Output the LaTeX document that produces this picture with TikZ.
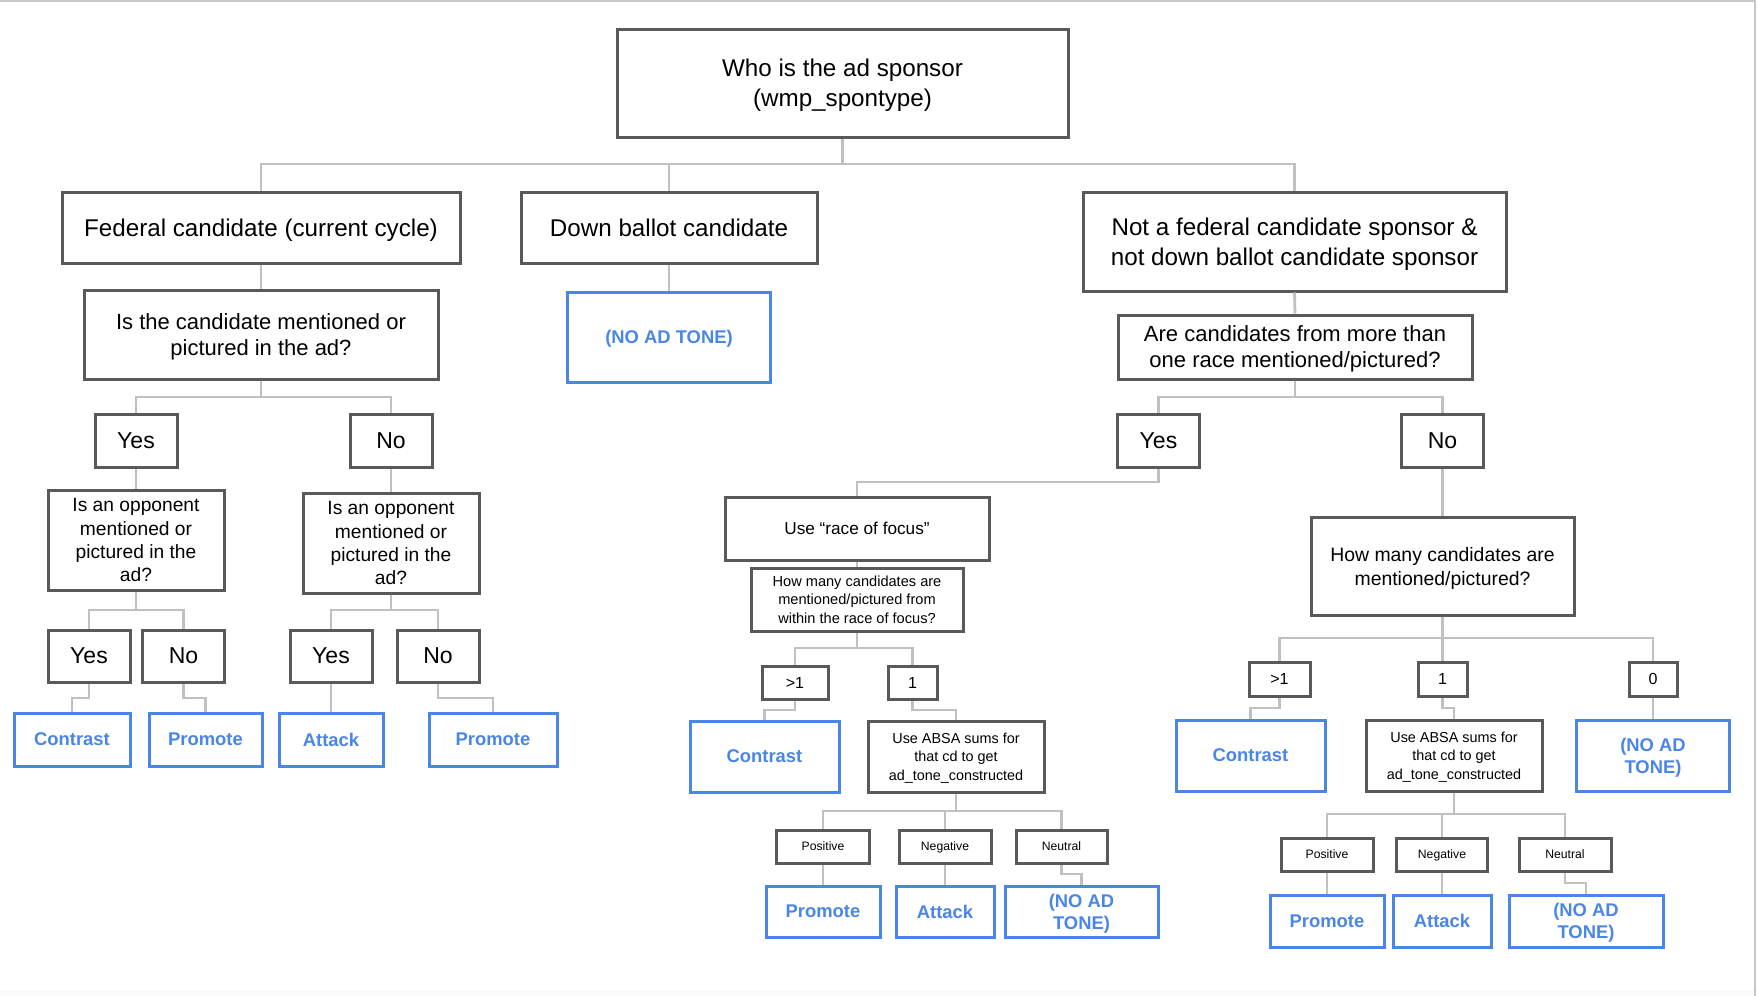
\documentclass[tikz,border=0pt]{standalone}
\usepackage{fontspec}
\setmainfont{Liberation Sans}
\usetikzlibrary{positioning}

\definecolor{boxgray}{HTML}{595959}
\definecolor{linkgray}{HTML}{C0C0C0}
\definecolor{toneblue}{HTML}{4A86E8}
\definecolor{framegray}{HTML}{C8C8C8}

\newcommand{\fxl}{\fontsize{12.1}{15}\selectfont}
\newcommand{\flg}{\fontsize{11}{13}\selectfont}
\newcommand{\fyn}{\fontsize{11.5}{13}\selectfont}
\newcommand{\fmd}{\fontsize{9.6}{11.6}\selectfont}
\newcommand{\fsm}{\fontsize{7.3}{9.3}\selectfont}
\newcommand{\fab}{\fontsize{7.2}{9.2}\selectfont}
\newcommand{\fnum}{\fontsize{8}{9}\selectfont}
\newcommand{\ftiny}{\fontsize{6.1}{7}\selectfont}

\tikzset{
  qbox/.style={rectangle,draw=boxgray,line width=1.5pt,fill=white,align=center,inner sep=1pt,text depth=0pt},
  tone/.style={rectangle,draw=toneblue,line width=1.5pt,fill=white,align=center,inner sep=1pt,text depth=0pt,
    text=toneblue,font=\fontsize{9.2}{11}\selectfont\bfseries},
  link/.style={draw=linkgray,line width=1.4pt}
}

\begin{document}
\begin{tikzpicture}[x=0.5pt,y=-0.5pt]
\useasboundingbox (0,0) rectangle (1758,996);
\fill[gray!4] (0,990) rectangle (1755,996);
\draw[framegray,line width=1pt] (0,1) -- (1755,1) -- (1755,996);

% Level 0 - Sponsor
\node[qbox,minimum width=225.5pt,minimum height=54pt,font=\fxl] (root) at (842.5,83) {Who is the ad sponsor\\(wmp\_spontype)};

% Level 1 - Sponsor types
\node[qbox,minimum width=199pt,minimum height=35.5pt,font=\fxl] (fed) at (261,227.5) {Federal candidate (current cycle)};
\node[qbox,minimum width=148pt,minimum height=35.5pt,font=\fxl] (down) at (669,227.5) {Down ballot candidate};
\node[qbox,minimum width=211.5pt,minimum height=49.5pt,font=\fxl] (notfed) at (1294.5,241.5) {Not a federal candidate sponsor \&\\not down ballot candidate sponsor};

% Level 2 - First questions
\node[qbox,minimum width=177pt,minimum height=44.5pt,font=\flg] (iscand) at (261,334.5) {Is the candidate mentioned or\\pictured in the ad?};
\node[tone,minimum width=101.5pt,minimum height=45pt] (noadD) at (669,337) {(NO AD TONE)};
\node[qbox,minimum width=177pt,minimum height=32pt,font=\flg] (arecand) at (1295,347) {Are candidates from more than\\one race mentioned/pictured?};

\node[qbox,minimum width=41pt,minimum height=26.5pt,font=\fyn] (yesA) at (136,440.5) {Yes};
\node[qbox,minimum width=41pt,minimum height=26.5pt,font=\fyn] (noA) at (391,440.5) {No};
\node[qbox,minimum width=41pt,minimum height=26.5pt,font=\fyn] (yesR) at (1158.5,440.5) {Yes};
\node[qbox,minimum width=41pt,minimum height=26.5pt,font=\fyn] (noR) at (1442.5,440.5) {No};

% Level 3 - Federal branch
\node[qbox,minimum width=88pt,minimum height=50pt,font=\fmd] (oppA) at (136,540) {Is an opponent\\mentioned or\\pictured in the\\ad?};
\node[qbox,minimum width=88pt,minimum height=50pt,font=\fmd] (oppB) at (391,543) {Is an opponent\\mentioned or\\pictured in the\\ad?};

\node[qbox,minimum width=41pt,minimum height=26pt,font=\fyn] (yesA1) at (89,656) {Yes};
\node[qbox,minimum width=41pt,minimum height=26pt,font=\fyn] (noA1) at (183.5,656) {No};
\node[qbox,minimum width=41pt,minimum height=26pt,font=\fyn] (yesB1) at (331,656) {Yes};
\node[qbox,minimum width=41pt,minimum height=26pt,font=\fyn] (noB1) at (438,656) {No};

\node[tone,minimum width=58pt,minimum height=26.5pt] (conA) at (72,739.5) {Contrast};
\node[tone,minimum width=56.5pt,minimum height=26.5pt] (proA) at (205.5,739.5) {Promote};
\node[tone,minimum width=52pt,minimum height=26.5pt] (attB) at (331,739.5) {Attack};
\node[tone,minimum width=64pt,minimum height=26.5pt] (proB) at (493,739.5) {Promote};

% Level 3 - Race of focus branch
\node[qbox,minimum width=132pt,minimum height=31.5pt,font=\fontsize{8.6}{10}\selectfont] (race) at (857,528.5) {Use “race of focus”};
\node[qbox,minimum width=106pt,minimum height=31.5pt,font=\fsm] (focus) at (857,599.5) {How many candidates are\\mentioned/pictured from\\within the race of focus?};

\node[qbox,minimum width=33pt,minimum height=16.5pt,font=\fnum] (gtF) at (795,682.5) {>1};
\node[qbox,minimum width=24.5pt,minimum height=16.5pt,font=\fnum] (oneF) at (912.5,682.5) {1};

\node[tone,minimum width=74.5pt,minimum height=35.5pt] (conF) at (764.5,756.5) {Contrast};
\node[qbox,minimum width=88pt,minimum height=35.5pt,font=\fab] (absaF) at (956,756.5) {Use ABSA sums for\\that cd to get\\ad\_tone\_constructed};

\node[qbox,minimum width=46.5pt,minimum height=16.5pt,font=\ftiny] (posF) at (823,846.5) {Positive};
\node[qbox,minimum width=46pt,minimum height=16.5pt,font=\ftiny] (negF) at (945,846.5) {Negative};
\node[qbox,minimum width=45.5pt,minimum height=16.5pt,font=\ftiny] (neuF) at (1061.5,846.5) {Neutral};

\node[tone,minimum width=57pt,minimum height=25.5pt] (proF) at (823,911.5) {Promote};
\node[tone,minimum width=49pt,minimum height=25.5pt] (attF) at (945,911.5) {Attack};
\node[tone,minimum width=76.5pt,minimum height=25.5pt] (noadF) at (1081.5,911.5) {(NO AD\\TONE)};

% Level 3 - Single race branch
\node[qbox,minimum width=131.5pt,minimum height=49pt,font=\fontsize{9.7}{12}\selectfont] (howR) at (1442.5,566) {How many candidates are\\mentioned/pictured?};

\node[qbox,minimum width=30.5pt,minimum height=17pt,font=\fnum] (gtR) at (1279.5,679) {>1};
\node[qbox,minimum width=24.5pt,minimum height=17pt,font=\fnum] (oneR) at (1442.5,679) {1};
\node[qbox,minimum width=24pt,minimum height=17pt,font=\fnum] (zeroR) at (1653,679) {0};

\node[tone,minimum width=74.5pt,minimum height=35.5pt] (conR) at (1250.5,755.5) {Contrast};
\node[qbox,minimum width=88pt,minimum height=35.5pt,font=\fab] (absaR) at (1454,755.5) {Use ABSA sums for\\that cd to get\\ad\_tone\_constructed};
\node[tone,minimum width=76.5pt,minimum height=35.5pt] (noadR) at (1653,755.5) {(NO AD\\TONE)};

\node[qbox,minimum width=46pt,minimum height=16.5pt,font=\ftiny] (posR) at (1327,854.5) {Positive};
\node[qbox,minimum width=45.5pt,minimum height=16.5pt,font=\ftiny] (negR) at (1442,854.5) {Negative};
\node[qbox,minimum width=46pt,minimum height=16.5pt,font=\ftiny] (neuR) at (1565,854.5) {Neutral};

\node[tone,minimum width=57pt,minimum height=26pt] (proR) at (1327,921) {Promote};
\node[tone,minimum width=49pt,minimum height=26pt] (attR) at (1442,921) {Attack};
\node[tone,minimum width=77pt,minimum height=26pt] (noadR2) at (1586,921) {(NO AD\\TONE)};

% Bus levels
\coordinate (b0) at (0,164);
\coordinate (b1) at (0,397);
\coordinate (b2) at (0,610);
\coordinate (b3) at (0,698);
\coordinate (b4) at (0,482);
\coordinate (b5) at (0,648);
\coordinate (b6) at (0,710);
\coordinate (b7) at (0,811);
\coordinate (b8) at (0,874);
\coordinate (b9) at (0,638);
\coordinate (b10) at (0,708);
\coordinate (b11) at (0,814);
\coordinate (b12) at (0,883);

% Connections
\foreach \c in {fed,down,notfed}
  \draw[link] (root.south) -- (root.south |- b0) -| (\c.north);
\draw[link] (fed.south) -- (iscand.north);
\draw[link] (down.south) -- (noadD.north);
\draw[link] (notfed.south) -- (arecand.north);

\foreach \c in {yesA,noA}
  \draw[link] (iscand.south) -- (iscand.south |- b1) -| (\c.north);
\foreach \c in {yesR,noR}
  \draw[link] (arecand.south) -- (arecand.south |- b1) -| (\c.north);

\draw[link] (yesA.south) -- (oppA.north);
\draw[link] (noA.south) -- (oppB.north);
\foreach \c in {yesA1,noA1}
  \draw[link] (oppA.south) -- (oppA.south |- b2) -| (\c.north);
\foreach \c in {yesB1,noB1}
  \draw[link] (oppB.south) -- (oppB.south |- b2) -| (\c.north);
\draw[link] (yesA1.south) -- (yesA1.south |- b3) -| (conA.north);
\draw[link] (noA1.south) -- (noA1.south |- b3) -| (proA.north);
\draw[link] (yesB1.south) -- (attB.north);
\draw[link] (noB1.south) -- (noB1.south |- b3) -| (proB.north);

\draw[link] (yesR.south) -- (yesR.south |- b4) -| (race.north);
\draw[link] (race.south) -- (focus.north);
\foreach \c in {gtF,oneF}
  \draw[link] (focus.south) -- (focus.south |- b5) -| (\c.north);
\draw[link] (gtF.south) -- (gtF.south |- b6) -| (conF.north);
\draw[link] (oneF.south) -- (oneF.south |- b6) -| (absaF.north);
\foreach \c in {posF,negF,neuF}
  \draw[link] (absaF.south) -- (absaF.south |- b7) -| (\c.north);
\draw[link] (posF.south) -- (proF.north);
\draw[link] (negF.south) -- (attF.north);
\draw[link] (neuF.south) -- (neuF.south |- b8) -| (noadF.north);

\draw[link] (noR.south) -- (howR.north);
\foreach \c in {gtR,oneR,zeroR}
  \draw[link] (howR.south) -- (howR.south |- b9) -| (\c.north);
\draw[link] (gtR.south) -- (gtR.south |- b10) -| (conR.north);
\draw[link] (oneR.south) -- (oneR.south |- b10) -| (absaR.north);
\draw[link] (zeroR.south) -- (noadR.north);
\foreach \c in {posR,negR,neuR}
  \draw[link] (absaR.south) -- (absaR.south |- b11) -| (\c.north);
\draw[link] (posR.south) -- (proR.north);
\draw[link] (negR.south) -- (attR.north);
\draw[link] (neuR.south) -- (neuR.south |- b12) -| (noadR2.north);
\end{tikzpicture}
\end{document}
